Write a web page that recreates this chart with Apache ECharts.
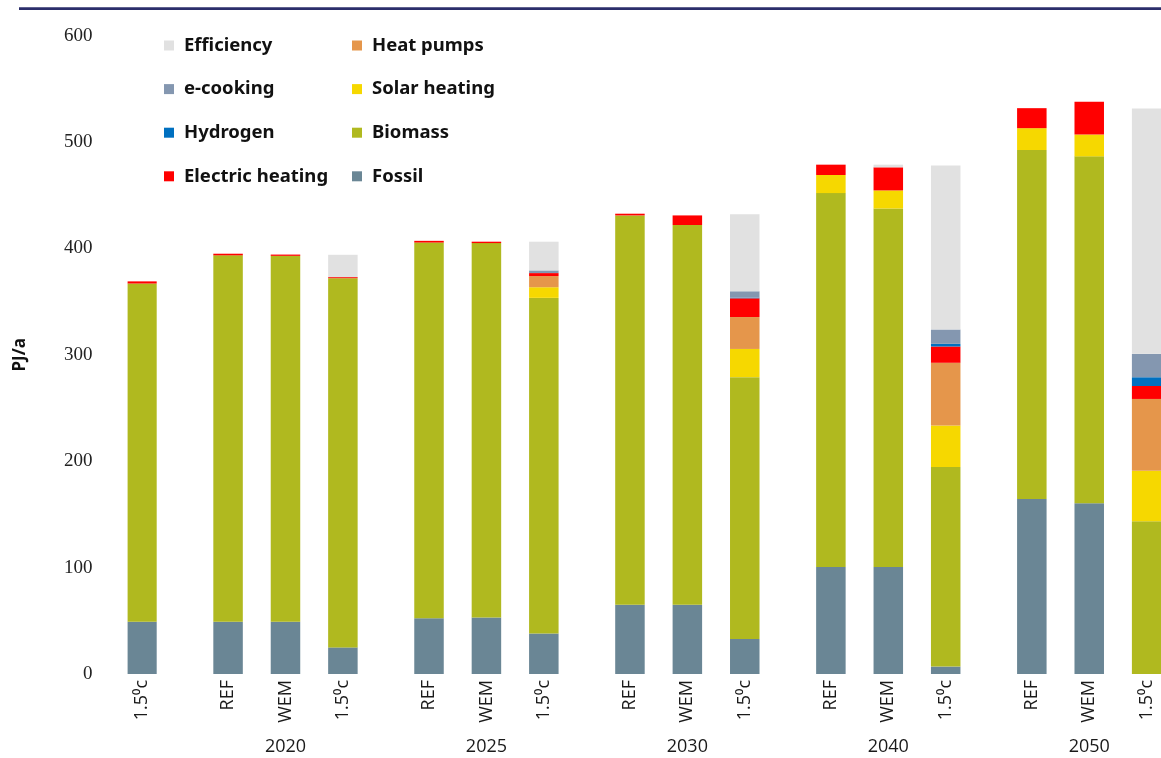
<!DOCTYPE html>
<html>
<head>
<meta charset="utf-8">
<script src="https://cdn.jsdelivr.net/npm/echarts@6/dist/echarts.min.js"></script>
<style>
  html, body { margin: 0; padding: 0; background: #ffffff; }
  #chart { width: 1161px; height: 758px; }
</style>
</head>
<body>
<div id="chart"></div>
<script>
// ---- Data ----
const groupYears = ['', '2020', '2025', '2030', '2040', '2050'];
const groupBars = [
  ['1.5⁰c'],
  ['REF', 'WEM', '1.5⁰c'],
  ['REF', 'WEM', '1.5⁰c'],
  ['REF', 'WEM', '1.5⁰c'],
  ['REF', 'WEM', '1.5⁰c'],
  ['REF', 'WEM', '1.5⁰c']
];
const yTicks = [0, 100, 200, 300, 400, 500, 600];

// values per bar, in order of groupBars (16 bars), PJ/a
const fossil     = [49, 49, 49, 25, 52.5, 53, 38, 65, 65, 33, 100.5, 100.5, 7, 164.5, 160.5, 0];
const biomass    = [318, 344.5, 344, 347, 353, 352, 315.5, 366, 357, 246, 351.5, 337, 187.5, 328, 326, 143.5];
const solar      = [0, 0, 0, 0, 0, 0, 10, 0, 0, 26.5, 17, 17, 39, 20.5, 20.5, 47.5];
const heatPumps  = [0, 0, 0, 0, 0, 0, 10.5, 0, 0, 30, 0, 0, 59, 0, 0, 67.5];
const electric   = [2, 1.5, 1.2, 1, 1.6, 1.3, 2.8, 1.6, 9, 17.6, 9.7, 21.7, 15.3, 18.8, 30.8, 12.2];
const hydrogen   = [0, 0, 0, 0, 0, 0, 0, 0, 0, 0.6, 0, 0, 2.5, 0, 0, 8.2];
const eCooking   = [0, 0, 0, 0, 0, 0, 2.5, 0, 0, 6, 0, 0, 13.5, 0, 0, 22];
const efficiency = [0, 0, 0, 21, 0, 0, 27, 0, 0, 72.5, 0, 2.5, 154, 0, 0, 230.5];

const seriesDefs = [
  { name: 'Fossil', data: fossil, color: '#6a8695' },
  { name: 'Biomass', data: biomass, color: '#b0b91f' },
  { name: 'Solar heating', data: solar, color: '#f6d800' },
  { name: 'Heat pumps', data: heatPumps, color: '#e5964b' },
  { name: 'Electric heating', data: electric, color: '#ff0000' },
  { name: 'Hydrogen', data: hydrogen, color: '#0070c0' },
  { name: 'e-cooking', data: eCooking, color: '#8497b0' },
  { name: 'Efficiency', data: efficiency, color: '#e1e1e1' }
];

// ---- Build category slots (with blank spacer slots) ----
const slotLabels = [];
const slotYears = [];
const barSlot = [];
groupBars.forEach((bars, gi) => {
  if (gi > 0) { slotLabels.push('', ''); slotYears.push('', ''); }
  bars.forEach((b, bi) => {
    if (bi > 0) { slotLabels.push(''); slotYears.push(''); }
    barSlot.push(slotLabels.length);
    slotLabels.push(b);
    slotYears.push(bi === Math.floor(bars.length / 2) ? groupYears[gi] : '');
  });
});

function toSlots(values) {
  const arr = slotLabels.map(() => '-');
  values.forEach((v, i) => { arr[barSlot[i]] = v; });
  return arr;
}

const chart = echarts.init(document.getElementById('chart'), null, { renderer: 'canvas' });

const legendText = { fontFamily: 'Noto Sans', fontWeight: 'bold', fontSize: 18.5, color: '#111', padding: [0, 0, 0, 5] };

chart.setOption({
  animation: false,
  backgroundColor: '#ffffff',
  graphic: [{
    type: 'rect',
    shape: { x: 19, y: 7.3, width: 1142, height: 2.7 },
    style: { fill: '#2b2e6b' }
  }],
  legend: [
    {
      orient: 'vertical', left: 159, top: 31, itemWidth: 10, itemHeight: 10, itemGap: 24.6,
      icon: 'rect', textStyle: legendText,
      data: ['Efficiency', 'e-cooking', 'Hydrogen', 'Electric heating']
    },
    {
      orient: 'vertical', left: 347, top: 31, itemWidth: 10, itemHeight: 10, itemGap: 24.6,
      icon: 'rect', textStyle: legendText,
      data: ['Heat pumps', 'Solar heating', 'Biomass', 'Fossil']
    }
  ],
  grid: { left: 127.6, top: 35.6, width: 1036.8, height: 638.4, containLabel: false },
  xAxis: [
    {
      type: 'category', data: slotLabels, position: 'bottom',
      axisLine: { show: false }, axisTick: { show: false },
      axisLabel: { interval: 0, rotate: 90, margin: 6, fontFamily: 'Open Sans', fontSize: 18, color: '#1a1a1a' }
    },
    {
      type: 'category', data: slotYears, position: 'bottom',
      axisLine: { show: false }, axisTick: { show: false },
      axisLabel: { interval: 0, margin: 64, fontFamily: 'Open Sans', fontSize: 18, color: '#1a1a1a' }
    }
  ],
  yAxis: {
    type: 'value', min: yTicks[0], max: yTicks[yTicks.length - 1], interval: yTicks[1] - yTicks[0],
    axisLine: { show: false }, axisTick: { show: false }, splitLine: { show: false },
    axisLabel: { margin: 35, padding: [0, 0, 6, 0], fontFamily: 'Liberation Serif', fontSize: 19, color: '#222' },
    name: 'PJ/a', nameLocation: 'middle', nameRotate: 90, nameGap: 99,
    nameTextStyle: { fontFamily: 'Noto Sans', fontWeight: 'bold', fontSize: 17, color: '#111' }
  },
  series: seriesDefs.map(s => ({
    name: s.name, type: 'bar', stack: 'total', xAxisIndex: 0,
    barWidth: 29.5, data: toSlots(s.data),
    itemStyle: { color: s.color }
  }))
});
</script>
</body>
</html>
